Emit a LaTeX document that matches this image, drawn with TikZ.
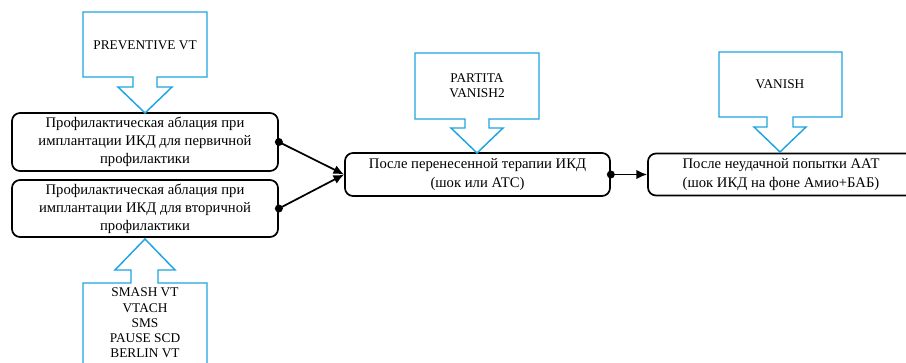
\documentclass[tikz,border=0pt]{standalone}
\usepackage{fontspec}
\setmainfont{Liberation Serif}
\usetikzlibrary{arrows.meta}
\definecolor{callblue}{RGB}{30,165,225}
\tikzset{
  box/.style={draw, rounded corners=6pt, line width=1.3pt, align=center,
    inner sep=0pt, font=\fontsize{11}{13.6}\selectfont},
  callout/.style={draw=callblue, line width=1.1pt},
  calltext/.style={align=center, inner sep=0pt, font=\fontsize{10}{11.4}\selectfont},
  conn/.style={line width=1.3pt, -{Latex[length=8pt,width=7pt]}},
}
\begin{document}
\begin{tikzpicture}[x=0.75pt,y=-0.75pt]
   \useasboundingbox (0,0) rectangle (906,363);
   % boxes
   \node[box, minimum width=199.5pt, minimum height=43.5pt] (prof1) at (145,142)
     {Профилактическая аблация при\\имплантации ИКД для первичной\\профилактики};
   \node[box, minimum width=199.5pt, minimum height=42.75pt] (prof2) at (145,208.5)
     {Профилактическая аблация при\\имплантации ИКД для вторичной\\профилактики};
   \node[box, minimum width=198.75pt, minimum height=32.25pt] (shock) at (477.5,174.5)
     {После перенесенной терапии ИКД\\(шок или АТС)};
   \node[box, minimum width=199.5pt, minimum height=31.5pt] (aat) at (781,174.5)
     {После неудачной попытки ААТ\\(шок ИКД на фоне Амио+БАБ)};
   % callouts
   \draw[callout] (83,12) -- (207,12) -- (207,77) -- (157,77) -- (157,87) -- (172,87)
     -- (145,113) -- (118,87) -- (133,87) -- (133,77) -- (83,77) -- cycle;
   \node[calltext] (prev) at (145,45) {PREVENTIVE VT};
   \draw[callout] (415,53) -- (539,53) -- (539,119) -- (489,119) -- (489,128) -- (503,128)
     -- (477,153) -- (451,128) -- (465,128) -- (465,119) -- (415,119) -- cycle;
   \node[calltext] (partita) at (477,86) {PARTITA\\VANISH2};
   \draw[callout] (719,52) -- (842,52) -- (842,117) -- (793,117) -- (793,127) -- (806,127)
     -- (780,152) -- (754,127) -- (767,127) -- (767,117) -- (719,117) -- cycle;
   \node[calltext] (vanish) at (780,84) {VANISH};
   \draw[callout] (145,239) -- (175,270) -- (158,270) -- (158,283) -- (207,283) -- (207,372)
     -- (83,372) -- (83,283) -- (131,283) -- (131,270) -- (115,270) -- cycle;
   \node[calltext] (trials) at (145,323) {SMASH VT\\VTACH\\SMS\\PAUSE SCD\\BERLIN VT};
   % connectors
   \draw[conn] (prof1.east) -- (shock.west);
   \draw[conn] (prof2.east) -- (shock.west);
   \draw[conn] (shock.east) -- (aat.west);
   \fill (prof1.east) circle[radius=3pt];
   \fill (prof2.east) circle[radius=3pt];
   \fill (shock.east) circle[radius=3pt];
\end{tikzpicture}
\end{document}
